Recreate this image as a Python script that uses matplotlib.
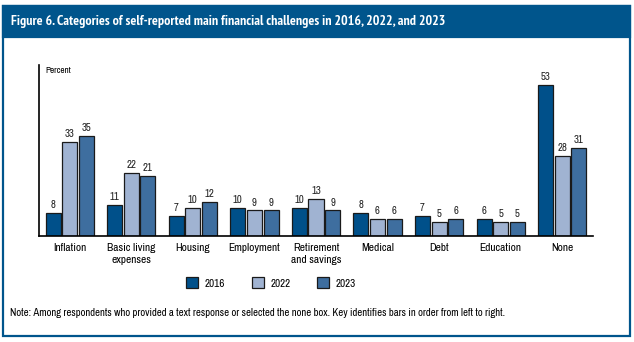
from matplotlib import pyplot as plt
from matplotlib.patches import Rectangle, Patch
import numpy as np

plt.rcParams['font.family'] = ['Archivo Narrow', 'DejaVu Sans']

categorias = ['Inflation', 'Basic living\nexpenses', 'Housing', 'Employment',
              'Retirement\nand savings', 'Medical', 'Debt', 'Education', 'None']
anios = ['2016', '2022', '2023']
v2016 = [8, 11, 7, 10, 10, 8, 7, 6, 53]
v2022 = [33, 22, 10, 9, 13, 6, 5, 5, 28]
v2023 = [35, 21, 12, 9, 9, 6, 6, 5, 31]

colores = ['#00508a', '#a0b3d2', '#3e6e9f']
azul = '#00558c'

fig = plt.figure(figsize=(6.34, 3.42), dpi=100)
W, H = 634, 342

# marco y barra de titulo
fig.patches.append(Rectangle((3/W, 6/H), 627/W, 330/H, transform=fig.transFigure,
                             fill=False, edgecolor=azul, linewidth=1.6))
fig.patches.append(Rectangle((3/W, (H-37)/H), 627/W, 31/H, transform=fig.transFigure,
                             facecolor=azul, edgecolor=azul, linewidth=1.6))
fig.text(11/W, (H-21)/H, 'Figure 6. Categories of self-reported main financial challenges in 2016, 2022, and 2023',
         color='white', fontsize=10, weight='bold', va='center', ha='left',
         family=['PT Sans Narrow', 'DejaVu Sans'])

ax = fig.add_axes([39/W, (H-236)/H, (593-39)/W, (236-65)/H])
x = np.arange(len(categorias))
w = 0.245
d = 0.27
for j, vals in enumerate([v2016, v2022, v2023]):
    barras = ax.bar(x + (j-1)*d, vals, w, color=colores[j], edgecolor='#1a1a1a',
                    linewidth=0.9, label=anios[j])
    for b, v in zip(barras, vals):
        ax.text(b.get_x()+b.get_width()/2, v+1.0, str(v), ha='center', va='bottom',
                fontsize=7.8, color='#222222')

ax.set_xlim(-0.5, 8.5)
ax.set_ylim(0, 60)
ax.set_yticks([])
ax.set_xticks(x)
ax.set_xticklabels(categorias, fontsize=8.2, linespacing=1.25, va='top')
ax.tick_params(axis='x', length=0, pad=5)
ax.spines['top'].set_visible(False)
ax.spines['right'].set_visible(False)
ax.spines['left'].set_linewidth(1.2)
ax.spines['bottom'].set_linewidth(1.2)
ax.text(0.012, 0.995, 'Percent', transform=ax.transAxes, fontsize=6.6, va='top', ha='left')

handles = [Patch(facecolor=c, edgecolor='#1a1a1a', linewidth=0.9) for c in colores]
fig.legend(handles, anios, loc='center', bbox_to_anchor=(271/W, (H-283)/H), ncol=3,
           frameon=False, fontsize=8, handlelength=1.05, handleheight=1.15,
           columnspacing=2.4, handletextpad=0.6)

fig.text(10/W, (H-313)/H, 'Note: Among respondents who provided a text response or selected the none box. Key identifies bars in order from left to right.',
         fontsize=7.7, va='center', ha='left')

plt.savefig('out.png', dpi=100)
